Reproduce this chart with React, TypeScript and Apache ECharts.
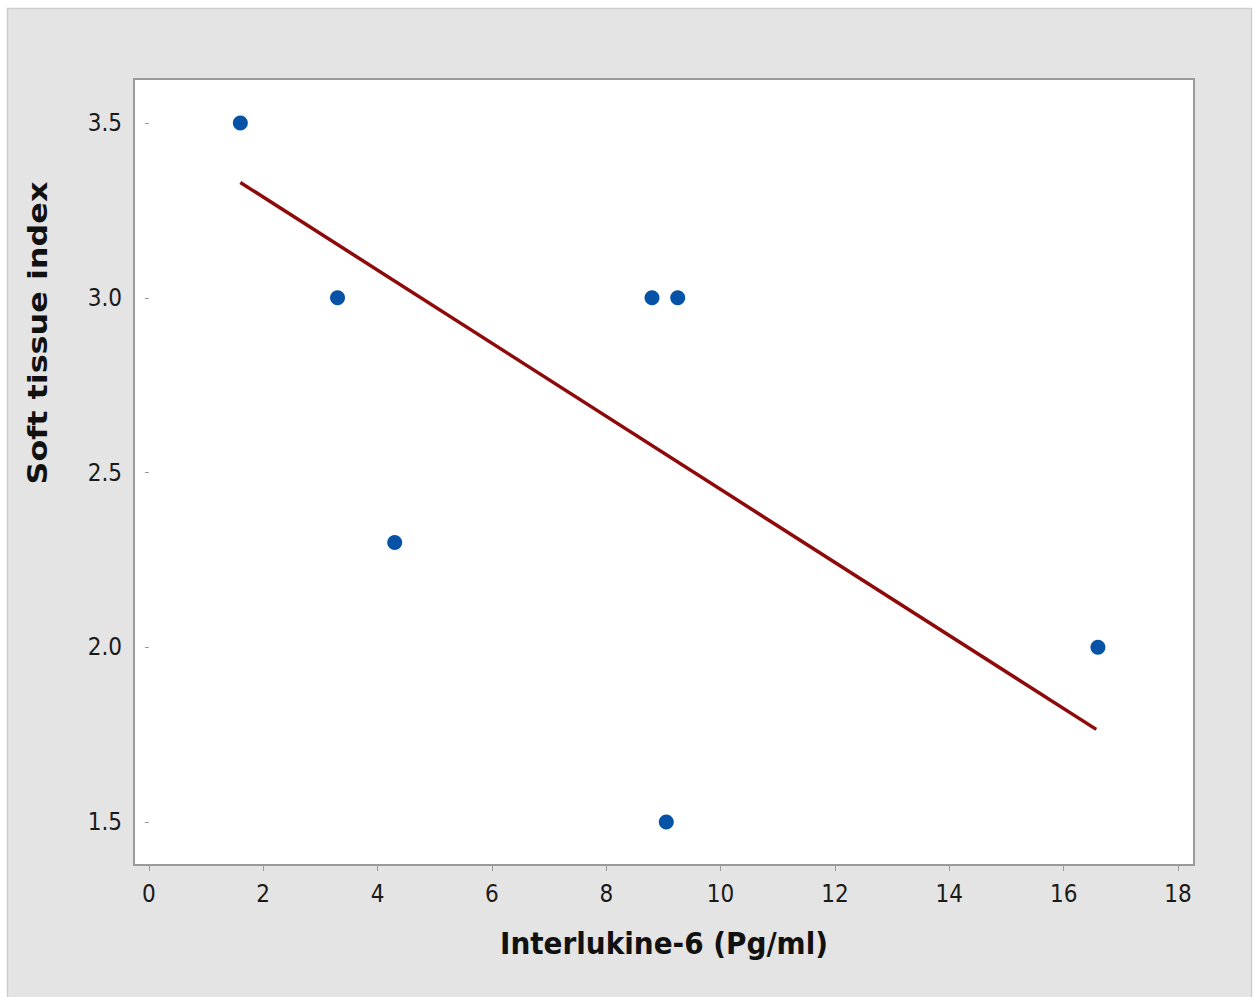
import React, { useEffect, useRef } from "react";
import * as echarts from "echarts";

const xValues = [1.6, 3.3, 4.3, 8.8, 9.25, 9.05, 16.6];
const yValues = [3.5, 3.0, 2.3, 3.0, 3.0, 1.5, 2.0];
const fitX = [1.6, 16.57];
const fitY = [3.33, 1.765];
const xTicks = [0, 2, 4, 6, 8, 10, 12, 14, 16, 18];
const yTicks = [1.5, 2.0, 2.5, 3.0, 3.5];
const xTitle = "Interlukine-6 (Pg/ml)";
const yTitle = "Soft tissue index";

export default function App() {
  const ref = useRef<HTMLDivElement>(null);
  useEffect(() => {
    if (!ref.current) return;
    const chart = echarts.init(ref.current, undefined, { renderer: "svg" });
    const labelFont = "'DejaVu Sans Condensed', 'DejaVu Sans', sans-serif";
    chart.setOption({
      animation: false,
      backgroundColor: "#ffffff",
      graphic: [
        {
          type: "rect",
          z: -10,
          shape: { x: 7.5, y: 8.5, width: 1244, height: 1000 },
          style: { fill: "#e4e4e4", stroke: "#cdcdcd", lineWidth: 1.5 },
        },
        {
          type: "text",
          x: 38,
          y: 333,
          rotation: Math.PI / 2,
          scaleX: 1.18,
          style: {
            text: yTitle,
            font: "bold 27px 'DejaVu Sans', sans-serif",
            fill: "#111",
            align: "center",
            verticalAlign: "middle",
          },
        },
        {
          type: "text",
          x: 664,
          y: 943,
          style: {
            text: xTitle,
            font: "bold 31px 'DejaVu Sans Condensed', 'DejaVu Sans', sans-serif",
            fill: "#111",
            align: "center",
            verticalAlign: "middle",
          },
        },
      ],
      grid: {
        left: 134,
        right: 62,
        top: 79,
        bottom: 132,
        show: true,
        backgroundColor: "#ffffff",
        borderColor: "#9a9a9a",
        borderWidth: 2,
      },
      xAxis: {
        type: "value",
        min: -0.26,
        max: 18.28,
        splitLine: { show: false },
        axisLine: { show: false },
        axisTick: {
          show: true,
          customValues: xTicks,
          length: 6,
          lineStyle: { color: "#999" },
        },
        axisLabel: {
          customValues: xTicks,
          fontFamily: labelFont,
          fontSize: 24,
          color: "#1a1a1a",
          margin: 17,
        },
      },
      yAxis: {
        type: "value",
        min: 1.377,
        max: 3.626,
        splitLine: { show: false },
        axisLine: { show: false },
        axisTick: {
          show: true,
          customValues: yTicks,
          length: 4,
          lineStyle: { color: "#999" },
        },
        axisLabel: {
          customValues: yTicks,
          formatter: (v: number) => v.toFixed(1),
          fontFamily: labelFont,
          fontSize: 24,
          color: "#1a1a1a",
          margin: 12,
        },
      },
      series: [
        {
          type: "line",
          data: fitX.map((x, i) => [x, fitY[i]]),
          showSymbol: false,
          lineStyle: { color: "#8e0a0a", width: 3.5 },
          z: 2,
        },
        {
          type: "scatter",
          data: xValues.map((x, i) => [x, yValues[i]]),
          symbol: "circle",
          symbolSize: 15,
          itemStyle: { color: "#0652a6", opacity: 1 },
          z: 3,
        },
      ],
    });
    return () => chart.dispose();
  }, []);
  return (
    <div
      ref={ref}
      style={{ position: "fixed", left: 0, top: 0, width: 1256, height: 997 }}
    />
  );
}
